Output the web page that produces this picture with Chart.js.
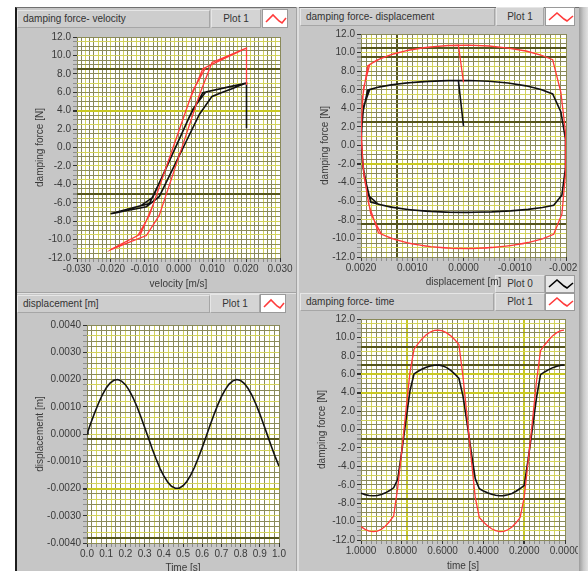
<!DOCTYPE html>
<html>
<head>
<meta charset="utf-8">
<script src="https://cdn.jsdelivr.net/npm/chart.js@4.4.0/dist/chart.umd.min.js"></script>
<style>
  body { margin: 0; width: 588px; height: 571px; background: #fff; overflow: hidden; position: relative;
         font-family: "Liberation Sans", Arial, sans-serif; }
  #frame { position: absolute; left: 15px; top: 7px; width: 563px; height: 570px; background: #c6c6c6;
           border-left: 2px solid #1c1c1c; border-top: 1px solid #707070; }
  #edge { position: absolute; left: 579px; top: 7px; width: 9px; height: 570px;
          background: linear-gradient(to right, #9c9c9c, #c8c8c8 50%, #e2e2e2); }
  .sepv { position: absolute; left: 296px; top: 7px; width: 2px; height: 570px; background: #dedede; border-left: 1px solid #a4a4a4; }
  .seph { position: absolute; left: 17px; top: 292px; width: 279px; height: 1px; background: #a4a4a4; border-bottom: 1px solid #e2e2e2; }
  .bar, .leg { position: absolute; box-sizing: border-box; font-size: 10px; color: #333; white-space: nowrap;
               border: 1px solid #a6a6a6; border-top-color: #e6e6e6; border-left-color: #e6e6e6; }
  .bar { background: #cdcdcd; padding-left: 5px; }
  .leg { background: #d4d4d4; text-align: center; }
  .icon { position: absolute; box-sizing: border-box; background: #fff; border: 1px solid #9a9a9a; }
  .icon svg { position: absolute; left: 2px; top: 1px; }
  canvas { position: absolute; }
</style>
</head>
<body>
<div id="frame"></div>
<div id="edge"></div>
<div class="sepv"></div>
<div class="seph"></div>

<div class="bar" style="left:17px;top:10px;width:193px;height:18px;line-height:16px;">damping force- velocity</div>
<div class="leg" style="left:211px;top:9px;width:50px;height:19px;line-height:17px;">Plot 1</div>
<div class="icon" style="left:262px;top:9px;width:26px;height:19px;"><svg width="22" height="15"><path d="M1 11 L8 4 L14 10 L17 12 L21 7" stroke="#ff3b3b" stroke-width="1.6" fill="none"/></svg></div>

<div class="bar" style="left:300px;top:8px;width:195px;height:18px;line-height:16px;">damping force- displacement</div>
<div class="leg" style="left:496px;top:7px;width:48px;height:19px;line-height:17px;">Plot 1</div>
<div class="icon" style="left:545px;top:7px;width:30px;height:19px;"><svg width="26" height="15"><path d="M1 11 L9 4 L16 10 L19 12 L25 7" stroke="#ff3b3b" stroke-width="1.6" fill="none"/></svg></div>

<div class="leg" style="left:495px;top:275px;width:50px;height:18px;line-height:16px;">Plot 0</div>
<div class="icon" style="left:545px;top:275px;width:30px;height:18px;background:#e8e8e8;"><svg width="26" height="14"><path d="M1 10 L9 3 L16 9 L19 11 L25 6" stroke="#000" stroke-width="1.6" fill="none"/></svg></div>
<div class="leg" style="left:495px;top:293px;width:50px;height:18px;line-height:16px;">Plot 1</div>
<div class="icon" style="left:545px;top:293px;width:30px;height:18px;"><svg width="26" height="14"><path d="M1 10 L9 3 L16 9 L19 11 L25 6" stroke="#ff3b3b" stroke-width="1.6" fill="none"/></svg></div>

<div class="bar" style="left:17px;top:295px;width:193px;height:18px;line-height:16px;">displacement [m]</div>
<div class="leg" style="left:210px;top:294px;width:50px;height:19px;line-height:17px;">Plot 1</div>
<div class="icon" style="left:260px;top:294px;width:26px;height:19px;"><svg width="22" height="15"><path d="M1 11 L8 4 L14 10 L17 12 L21 7" stroke="#ff3b3b" stroke-width="1.6" fill="none"/></svg></div>

<div class="bar" style="left:300px;top:293px;width:194px;height:18px;line-height:16px;">damping force- time</div>

<canvas id="velChart" width="280" height="264" style="left:16px;top:28px;"></canvas>
<canvas id="dispForceChart" width="278" height="266" style="left:300px;top:26px;"></canvas>
<canvas id="dispChart" width="280" height="266" style="left:16px;top:312px;"></canvas>
<canvas id="timeChart" width="278" height="267" style="left:300px;top:311px;"></canvas>

<script>
// samples (time in s)
const time = [0, 0.005, 0.02, 0.04, 0.06, 0.08, 0.10, 0.12, 0.14, 0.16, 0.18, 0.20, 0.22, 0.24, 0.26, 0.28, 0.30,
  0.32, 0.34, 0.36, 0.38, 0.40, 0.42, 0.44, 0.46, 0.48, 0.50, 0.52, 0.54, 0.56, 0.58, 0.60, 0.62, 0.64, 0.66,
  0.68, 0.70, 0.72, 0.74, 0.76, 0.78, 0.80, 0.82, 0.84, 0.86, 0.88, 0.90, 0.92, 0.94, 0.96, 0.98, 1.00];
const displacement = [0, 0.0001, 0.0004, 0.00078, 0.00113, 0.00144, 0.00169, 0.00187, 0.00197, 0.002, 0.00194,
  0.00181, 0.0016, 0.00133, 0.00101, 0.00064, 0.00025, -0.00015, -0.00055, -0.00092, -0.00126, -0.00154, -0.00176,
  -0.00192, -0.00199, -0.00199, -0.0019, -0.00174, -0.00151, -0.00122, -0.00087, -0.0005, -0.0001, 0.0003, 0.00069,
  0.00105, 0.00137, 0.00163, 0.00183, 0.00195, 0.002, 0.00196, 0.00185, 0.00166, 0.00141, 0.00109, 0.00074, 0.00035,
  -0.00005, -0.00045, -0.00083, -0.00118];
const velocity = [0.0201, 0.0201, 0.0197, 0.0185, 0.0166, 0.0139, 0.0108, 0.0072, 0.0033, -0.0008, -0.0048, -0.0086,
  -0.012, -0.015, -0.0174, -0.019, -0.0199, -0.02, -0.0193, -0.0179, -0.0156, -0.0128, -0.0095, -0.0057, -0.0018,
  0.0023, 0.0062, 0.0099, 0.0132, 0.016, 0.0181, 0.0195, 0.0201, 0.0199, 0.0189, 0.0171, 0.0147, 0.0116, 0.0081,
  0.0043, 0.0003, -0.0038, -0.0076, -0.0112, -0.0143, -0.0168, -0.0187, -0.0198, -0.0201, -0.0196, -0.0183, -0.0163];
const forcePlot0 = [2.1, 7.0, 6.97, 6.87, 6.72, 6.5, 6.25, 5.96, 3.4, 0.08, -3.15, -6.08, -6.41, -6.7, -6.94, -7.09,
  -7.18, -7.19, -7.14, -7.04, -6.87, -6.67, -6.43, -5.34, -2.4, 0.68, 3.62, 5.55, 6.02, 6.42, 6.72, 6.91, 7.0, 6.98,
  6.9, 6.76, 6.57, 6.32, 6.04, 4.2, 0.97, -2.34, -5.41, -6.33, -6.63, -6.88, -7.06, -7.17, -7.2, -7.16, -7.07, -6.92];
const forcePlot1 = [6.8, 10.8, 10.73, 10.52, 10.19, 9.72, 9.18, 8.56, 5.16, 0.85, -3.36, -7.36, -9.56, -10.13, -10.58,
  -10.89, -11.06, -11.09, -10.98, -10.78, -10.44, -10.04, -9.56, -7.38, -3.08, 1.43, 5.73, 9.23, 9.74, 10.17, 10.49,
  10.71, 10.8, 10.76, 10.59, 10.28, 9.86, 9.32, 8.72, 6.21, 2.0, -2.31, -6.31, -9.4, -9.99, -10.47, -10.83, -11.04,
  -11.1, -11.03, -10.84, -10.55];

// labelled tick values
const forceTicks = [-12, -10, -8, -6, -4, -2, 0, 2, 4, 6, 8, 10, 12];
const velocityTicks = [-0.03, -0.02, -0.01, 0, 0.01, 0.02, 0.03];
const dispXTicks = [-0.002, -0.001, 0, 0.001, 0.002];
const dispYTicks = [-0.004, -0.003, -0.002, -0.001, 0, 0.001, 0.002, 0.003, 0.004];
const timeTicks3 = [0, 0.1, 0.2, 0.3, 0.4, 0.5, 0.6, 0.7, 0.8, 0.9, 1.0];
const timeTicks4 = [0, 0.2, 0.4, 0.6, 0.8, 1.0];

const RED = '#ff3b3b', BLACK = '#111';
const OLIVE = '#8a8a5a', YELLOW = '#d2d25c', DARK = '#55551d', BRIGHT = '#c8c822';

Chart.defaults.font.family = '"Liberation Sans", Arial, sans-serif';
Chart.defaults.font.size = 10;
Chart.defaults.color = '#3a3a3a';

const plotBg = {
  id: 'plotBg',
  beforeDraw(chart) {
    const { ctx, chartArea: a } = chart;
    ctx.save();
    ctx.fillStyle = '#fff';
    ctx.fillRect(a.left, a.top, a.right - a.left, a.bottom - a.top);
    ctx.restore();
  }
};

function near(v, list, tol) {
  return list.some(c => Math.abs(v - c) < tol);
}

function axis(o) {
  const tol = o.step / 10;
  const dark = o.dark || [], bright = o.bright || [];
  const left = o.pos === 'left';
  return {
    type: 'linear',
    position: o.pos,
    min: Math.min(...o.labels),
    max: Math.max(...o.labels),
    reverse: !!o.reverse,
    afterFit: s => {
      if (left) s.width = o.size; else s.height = o.size;
      s.paddingLeft = 0; s.paddingRight = 0; s.paddingTop = 0; s.paddingBottom = 0;
    },
    border: { display: false },
    grid: {
      color: c => {
        if (!c.tick) return OLIVE;
        if (near(c.tick.value, dark, tol)) return DARK;
        if (near(c.tick.value, bright, tol)) return BRIGHT;
        return c.index % 3 === 2 ? YELLOW : OLIVE;
      },
      lineWidth: c => c.tick && (near(c.tick.value, dark, tol) || near(c.tick.value, bright, tol)) ? 2 : 1,
      tickColor: c => c.tick && near(c.tick.value, o.labels, tol) ? '#333' : '#8c8c8c',
      tickLength: 4
    },
    ticks: {
      stepSize: o.step,
      autoSkip: false,
      maxRotation: 0,
      padding: left ? 2 : 1,
      color: '#3a3a3a',
      callback: v => near(v, o.labels, tol) ? (Math.abs(v) < tol ? 0 : v).toFixed(o.digits) : ''
    },
    title: {
      display: true,
      text: o.title,
      color: '#3a3a3a',
      padding: left ? { top: o.titlePad } : { bottom: o.titlePad }
    }
  };
}

function line(points, color, width) {
  return { data: points, borderColor: color, borderWidth: width, showLine: true, pointRadius: 0, tension: 0 };
}

function makeChart(id, datasets, xAxis, yAxis, padding) {
  return new Chart(document.getElementById(id).getContext('2d'), {
    type: 'scatter',
    data: { datasets },
    options: {
      responsive: false,
      animation: false,
      devicePixelRatio: 1,
      layout: { padding },
      plugins: { legend: { display: false }, tooltip: { enabled: false } },
      scales: { x: xAxis, y: yAxis }
    },
    plugins: [plotBg]
  });
}

// damping force - velocity
makeChart('velChart', [
  line(velocity.map((v, i) => ({ x: v, y: forcePlot1[i] })), RED, 1.3),
  line(velocity.map((v, i) => ({ x: v, y: forcePlot0[i] })), BLACK, 1.6)
],
  axis({ pos: 'bottom', labels: velocityTicks, step: 0.00125, digits: 3, title: 'velocity [m/s]', titlePad: 2, size: 34 }),
  axis({ pos: 'left', labels: forceTicks, step: 0.5, digits: 1, title: 'damping force [N]', titlePad: 18, size: 61,
         dark: [8.5, -5], bright: [4] }),
  { left: 0, top: 9, right: 16, bottom: 0 });

// damping force - displacement
makeChart('dispForceChart', [
  line(displacement.map((d, i) => ({ x: d, y: forcePlot1[i] })), RED, 1.3),
  line(displacement.map((d, i) => ({ x: d, y: forcePlot0[i] })), BLACK, 1.6)
],
  axis({ pos: 'bottom', labels: dispXTicks, step: 0.0001, digits: 4, reverse: true, title: 'displacement [m]', titlePad: 4,
         size: 35, dark: [0.0013] }),
  axis({ pos: 'left', labels: forceTicks, step: 0.5, digits: 1, title: 'damping force [N]', titlePad: 19, size: 61,
         dark: [10.5, 9.5, 2.5, -8.5], bright: [-2] }),
  { left: 0, top: 8, right: 12, bottom: 0 });

// displacement - time
makeChart('dispChart', [
  line(time.map((t, i) => ({ x: t, y: displacement[i] })), BLACK, 1.6)
],
  axis({ pos: 'bottom', labels: timeTicks3, step: 0.025, digits: 1, title: 'Time [s]', titlePad: 4, size: 35 }),
  axis({ pos: 'left', labels: dispYTicks, step: 0.0002, digits: 4, title: 'displacement [m]', titlePad: 18, size: 71,
         dark: [-0.0002, -0.0038], bright: [-0.002] }),
  { left: 0, top: 13, right: 17, bottom: 0 });

// damping force - time (start-up sample left out, as in the original plot)
makeChart('timeChart', [
  line(time.slice(1).map((t, i) => ({ x: t, y: forcePlot1[i + 1] })), RED, 1.3),
  line(time.slice(1).map((t, i) => ({ x: t, y: forcePlot0[i + 1] })), BLACK, 1.6)
],
  axis({ pos: 'bottom', labels: timeTicks4, step: 0.025, digits: 4, reverse: true, title: 'time [s]', titlePad: 6, size: 38,
         bright: [0.2, 0.775] }),
  axis({ pos: 'left', labels: forceTicks, step: 0.5, digits: 1, title: 'damping force [N]', titlePad: 16, size: 61,
         dark: [9, 7, -1, -7.5], bright: [6, 4] }),
  { left: 0, top: 8, right: 13, bottom: 0 });
</script>
</body>
</html>
